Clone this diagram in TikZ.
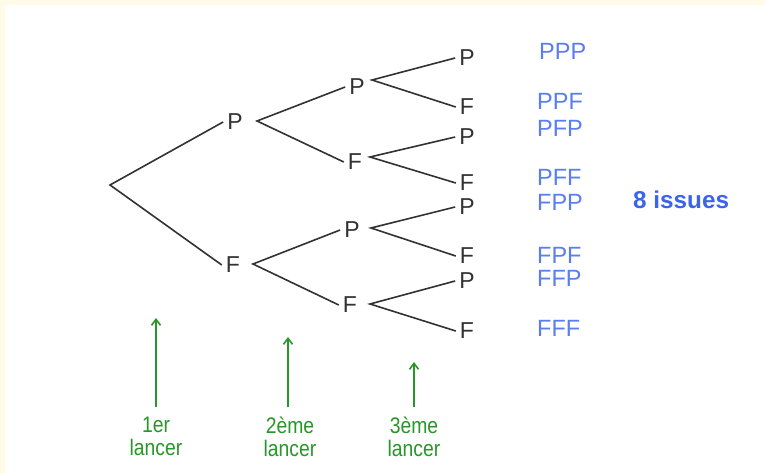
\documentclass[tikz,border=0pt]{standalone}
\usepackage{fontspec}
\setmainfont{Liberation Sans}
\newfontfamily\narrowsans[FakeStretch=0.86]{Liberation Sans}
\usetikzlibrary{arrows.meta}
\definecolor{cream}{RGB}{255,251,230}
\definecolor{treegray}{RGB}{50,50,50}
\definecolor{outblue}{RGB}{90,125,240}
\definecolor{boldblue}{RGB}{60,100,235}
\definecolor{lgreen}{RGB}{40,150,40}
\tikzset{
  lbl/.style={font=\fontsize{23}{23}\selectfont, text=treegray, inner sep=4pt},
  branch/.style={draw=treegray, line width=1.6pt},
  outcome/.style={font=\fontsize{23.5}{23.5}\selectfont, text=outblue, anchor=west, inner sep=0pt},
  throwarrow/.style={draw=lgreen, line width=1.6pt, -{Straight Barb[length=6pt,width=9pt]}},
  throwlbl/.style={font=\narrowsans\fontsize{22.5}{23}\selectfont, text=lgreen, align=center, inner sep=0pt}
}
\begin{document}
\begin{tikzpicture}[x=1pt,y=-1pt]
\useasboundingbox (0,0) rectangle (765,473);
\fill[white] (0,0) rectangle (765,473);
\fill[cream] (0,0) rectangle (765,5);
\fill[cream] (0,0) rectangle (5,473);
% level 1
\coordinate (root) at (110,185);
\node[lbl] (p1) at (235,122) {P};
\node[lbl] (f1) at (233,265) {F};
% level 2
\node[lbl] (pp) at (357,87) {P};
\node[lbl] (pf) at (355,162) {F};
\node[lbl] (fp) at (352,230) {P};
\node[lbl] (ff) at (350,305) {F};
% level 3
\node[lbl] (ppp) at (467,58) {P};
\node[lbl] (ppf) at (467,107) {F};
\node[lbl] (pfp) at (467,137) {P};
\node[lbl] (pff) at (467,183) {F};
\node[lbl] (fpp) at (467,207) {P};
\node[lbl] (fpf) at (467,256) {F};
\node[lbl] (ffp) at (467,281) {P};
\node[lbl] (fff) at (467,331) {F};
% fork points
\coordinate (kp1) at (257,121);
\coordinate (kf1) at (253,264);
\coordinate (kpp) at (372,80);
\coordinate (kpf) at (370,157);
\coordinate (kfp) at (371,228);
\coordinate (kff) at (370,304);
% branches
\draw[branch] (p1.west) -- (root) -- (f1.west);
\draw[branch] (pp.west) -- (kp1) -- (pf.west);
\draw[branch] (fp.west) -- (kf1) -- (ff.west);
\draw[branch] (ppp.west) -- (kpp) -- (ppf.west);
\draw[branch] (pfp.west) -- (kpf) -- (pff.west);
\draw[branch] (fpp.west) -- (kfp) -- (fpf.west);
\draw[branch] (ffp.west) -- (kff) -- (fff.west);
% outcomes
\node[outcome] (oppp) at (539,51) {PPP};
\node[outcome] (oppf) at (537,101) {PPF};
\node[outcome] (opfp) at (537,128) {PFP};
\node[outcome] (opff) at (537,177) {PFF};
\node[outcome] (ofpp) at (537,202) {FPP};
\node[outcome] (ofpf) at (537,255) {FPF};
\node[outcome] (offp) at (537,278) {FFP};
\node[outcome] (offf) at (537,328) {FFF};
\node[font=\bfseries\fontsize{24.3}{24.3}\selectfont, text=boldblue, anchor=west, inner sep=0pt] (issues) at (633,200) {8 issues};
% throws
\coordinate (a1b) at (156,407);
\coordinate (a1t) at (156,318);
\coordinate (a2b) at (288,407);
\coordinate (a2t) at (288,337);
\coordinate (a3b) at (414,407);
\coordinate (a3t) at (414,362);
\draw[throwarrow] (a1b) -- (a1t);
\draw[throwarrow] (a2b) -- (a2t);
\draw[throwarrow] (a3b) -- (a3t);
\node[throwlbl] (t1) at (156,436) {1er\\lancer};
\node[throwlbl] (t2) at (290,437) {2ème\\lancer};
\node[throwlbl] (t3) at (414,437) {3ème\\lancer};
\end{tikzpicture}
\end{document}
